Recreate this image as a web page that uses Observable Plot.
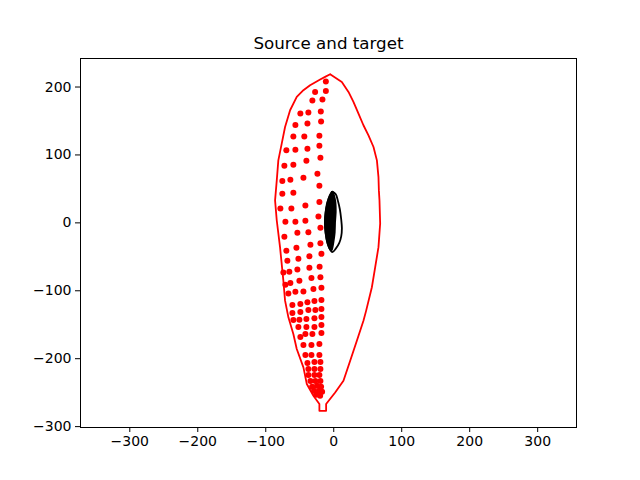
<!DOCTYPE html>
<html>
<head>
<meta charset="utf-8">
<script src="https://cdn.jsdelivr.net/npm/d3@7"></script>
<script src="https://cdn.jsdelivr.net/npm/@observablehq/plot@0.6"></script>
<style>
  html, body { margin: 0; padding: 0; background: #fff; }
</style>
</head>
<body>
<div id="chart"></div>
<script>
// Red target outline (closed)
const outlineX = [-5.3, 11.9, 21.7, 29.0, 36.4, 43.7, 51.1, 58.5, 63.5, 65.8, 66.4, 67.3, 68.3, 65.8, 61.0, 56.1, 47.7, 43.7, 34.0, 24.2, 14.3, 2.1, -11.2, -11.2, -21.1, -21.1, -29.9, -39.6, -44.6, -54.4, -59.4, -66.7, -71.6, -74.1, -79.0, -83.8, -86.3, -83.8, -81.5, -76.5, -71.6, -64.2, -54.4, -44.6, -34.8, -20.0, -12.7, -5.3];
const outlineY = [218.9, 207.5, 192.8, 178.0, 160.9, 143.7, 128.9, 111.7, 92.0, 67.4, 47.8, 33.0, -0.9, -35.8, -65.3, -94.8, -129.2, -144.0, -173.5, -203.0, -232.5, -249.7, -266.8, -276.7, -276.7, -266.8, -254.6, -237.3, -212.8, -185.7, -163.6, -139.1, -114.5, -85.0, -35.8, 3.5, 33.0, 62.5, 92.0, 116.7, 141.2, 165.8, 185.4, 195.3, 202.7, 211.1, 214.9, 218.9];

// Red source points
const dotX = [-11.6, -11.6, -27.4, -16.6, -31.4, -19.0, -37.3, -49.1, -18.6, -38.7, -56.4, -21.1, -43.3, -59.4, -21.1, -38.7, -56.4, -69.7, -19.6, -40.2, -59.4, -72.6, -24.0, -44.6, -63.8, -75.6, -21.1, -59.4, -75.6, -21.1, -41.7, -62.3, -78.5, -22.5, -41.7, -56.4, -71.1, -19.6, -37.3, -53.5, -72.6, -19.6, -34.3, -54.9, -69.7, -18.1, -35.8, -52.0, -68.2, -20.8, -35.8, -53.5, -65.3, -74.1, -19.6, -32.8, -50.5, -63.8, -71.1, -18.1, -29.9, -44.6, -56.4, -66.7, -18.1, -28.4, -38.7, -49.1, -60.8, -18.1, -27.0, -37.3, -49.1, -60.8, -18.1, -28.4, -40.2, -50.5, -59.4, -18.1, -28.4, -40.2, -52.0, -18.1, -31.4, -41.7, -49.1, -21.1, -32.8, -44.6, -21.1, -32.8, -41.7, -19.6, -28.4, -38.7, -19.6, -28.4, -37.3, -21.1, -28.4, -37.3, -19.6, -27.0, -34.3, -31.8, -24.5, -18.6, -28.9, -21.5, -25.9, -20.0, -17.1];
const dotY = [208.1, 194.3, 192.8, 181.6, 180.1, 163.9, 162.4, 160.9, 149.1, 146.2, 144.1, 128.2, 127.1, 127.0, 113.7, 109.3, 107.8, 106.8, 96.0, 91.6, 85.7, 84.2, 72.4, 66.5, 63.6, 61.5, 54.7, 44.4, 42.9, 30.8, 25.7, 21.2, 21.2, 9.4, 3.1, 1.6, 1.6, -7.2, -13.7, -14.6, -20.5, -29.9, -32.3, -36.7, -41.2, -45.6, -49.1, -53.0, -55.9, -64.8, -66.2, -68.7, -72.1, -73.2, -80.1, -81.0, -85.4, -88.4, -91.3, -95.7, -97.2, -101.2, -101.6, -104.1, -113.4, -114.9, -117.0, -119.3, -120.8, -126.7, -128.2, -128.2, -131.1, -132.6, -138.5, -140.6, -141.5, -142.5, -142.9, -150.3, -153.3, -153.3, -153.3, -162.1, -163.6, -163.6, -168.0, -178.3, -179.8, -179.8, -194.6, -194.6, -194.6, -204.9, -204.9, -206.4, -215.2, -215.2, -215.2, -224.1, -224.1, -224.1, -232.9, -232.9, -232.9, -241.3, -239.8, -241.3, -247.2, -247.2, -253.1, -254.6, -248.7];

// Black deformed shape: dense filled core
const coreY     = [46, 40, 30, 15, 0, -15, -30, -40, -43];
const coreLeft  = [-3, -6, -10, -12.5, -13.5, -12.5, -10, -6, -3];
const coreRight = [0, 2.5, 4.5, 5, 4, 3.5, 1.5, -0.5, -2];
// Black outer loop
const loopX = [-2, 3, 6, 9, 11, 12, 11, 8, 3, -2, -5, -9, -12, -13, -12, -9, -6, -2];
const loopY = [46, 42, 33, 20, 5, -8, -20, -30, -38, -43, -40, -30, -15, 0, 15, 30, 40, 46];

const xTicks = [-300, -200, -100, 0, 100, 200, 300];
const yTicks = [-300, -200, -100, 0, 100, 200];
const title = "Source and target";

const outline = outlineX.map((x, i) => ({x, y: outlineY[i]}));
const dots = dotX.map((x, i) => ({x, y: dotY[i]}));
const core = coreY.map((y, i) => ({y, x1: coreLeft[i], x2: coreRight[i]}));
const loop = loopX.map((x, i) => ({x, y: loopY[i]}));

const chart = Plot.plot({
  width: 640,
  height: 480,
  marginLeft: 80,
  marginRight: 64,
  marginTop: 58,
  marginBottom: 53,
  style: {fontFamily: "DejaVu Sans, sans-serif", fontSize: "14px", color: "black", background: "white"},
  x: {domain: [-372.5, 357.1], ticks: xTicks},
  y: {domain: [-301.3, 242.0], ticks: yTicks},
  marks: [
    Plot.line(outline, {x: "x", y: "y", stroke: "red", strokeWidth: 1.8, curve: "linear"}),
    Plot.dot(dots, {x: "x", y: "y", r: 3, fill: "red", stroke: "none"}),
    Plot.areaX(core, {y: "y", x1: "x1", x2: "x2", fill: "black", curve: "catmull-rom"}),
    Plot.line(loop, {x: "x", y: "y", stroke: "black", strokeWidth: 1.8, curve: "catmull-rom"}),
    Plot.frame({stroke: "black", strokeWidth: 1}),
    Plot.axisX({ticks: xTicks, tickSize: 5, tickPadding: 4, label: null, fontSize: 14}),
    Plot.axisY({ticks: yTicks, tickSize: 5, tickPadding: 4, label: null, fontSize: 14}),
    Plot.text([title], {text: d => d, frameAnchor: "top", dy: -15, fontSize: 16.7, lineAnchor: "middle", fill: "black"})
  ]
});
document.getElementById("chart").appendChild(chart);
</script>
</body>
</html>
